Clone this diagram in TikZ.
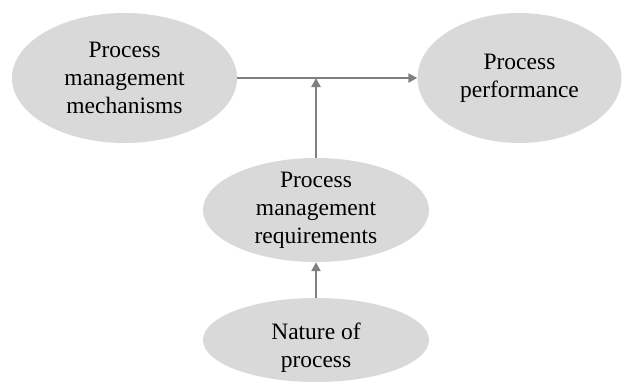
\documentclass[tikz,border=0pt]{standalone}
\usepackage{fontspec}
\setmainfont{Liberation Serif}
\usetikzlibrary{shapes.geometric,arrows.meta}

\tikzset{
  bubble/.style={ellipse, fill=bubblegray, draw=none, inner sep=0pt},
  words/.style={align=center, text=black, font=\fontsize{23.5}{28}\selectfont},
  link/.style={draw=linkgray, line width=2.6pt, -{Triangle[length=9pt,width=9pt]}}
}
\definecolor{bubblegray}{HTML}{D9D9D9}
\definecolor{linkgray}{HTML}{808080}

\begin{document}
\begin{tikzpicture}[x=1pt,y=-1pt]
  \useasboundingbox (0,0) rectangle (622,383);

  \node[bubble, minimum width=225pt, minimum height=130pt,
    label={[words]center:Process\\management\\mechanisms}] (mech) at (124.5,78) {};
  \node[bubble, minimum width=204pt, minimum height=130pt,
    label={[words]center:Process\\performance}] (perf) at (519.5,78) {};
  \node[bubble, minimum width=226pt, minimum height=104pt,
    label={[words]center:Process\\management\\requirements}] (req) at (316,210) {};
  \node[bubble, minimum width=226pt, minimum height=84pt,
    label={[words, yshift=-8pt]center:Nature of\\process}] (nature) at (316,340) {};

  \draw[link] (mech.east) -- (perf.west);
  \draw[link] (req.north) -- (req.north |- mech.east);
  \draw[link] (nature.north) -- (req.south);
\end{tikzpicture}
\end{document}
